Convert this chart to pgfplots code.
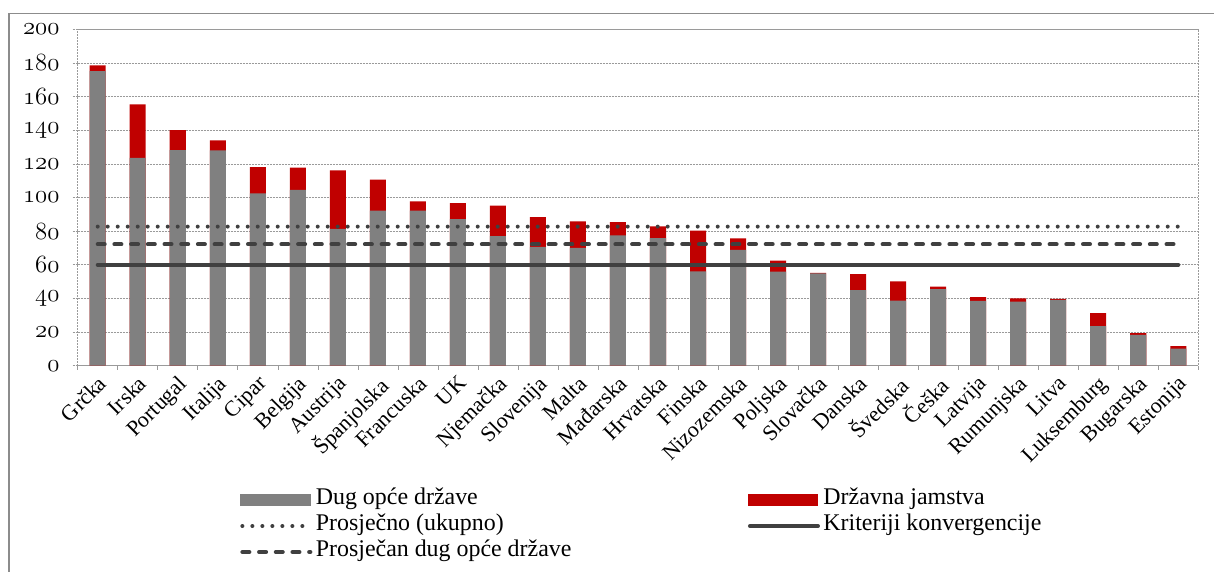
\documentclass[border=0pt]{standalone}
\usepackage{fontspec}
\setmainfont{Liberation Serif}
\usepackage{pgfplots}
\usepackage{pgfplotstable}
\pgfplotsset{compat=1.18}
\definecolor{dug}{HTML}{808080}
\definecolor{jam}{HTML}{C00000}
\definecolor{lin}{HTML}{404040}
\definecolor{grd}{HTML}{9A9A9A}
\definecolor{frm}{HTML}{8C8C8C}
\newcommand\osf[1]{{\fontsize{23}{23}\usefont{OML}{cmm}{m}{it}#1}}
\pgfplotsset{
  lineleg/.style={legend image code/.code={\draw[##1] (2bp,0bp) -- (70bp,0bp);}},
  dugleg/.style={legend image code/.code={\fill[dug] (0bp,-5.5bp) rectangle (70bp,6bp);}},
  jamleg/.style={legend image code/.code={\fill[jam] (0bp,-5.5bp) rectangle (70bp,6bp);}},
}

% x  debt  total (debt + state guarantees), % of GDP
\pgfplotstableread{
x debt total
0 175.2 178.6
1 123.5 155.4
2 128.2 140.1
3 128.0 134.0
4 102.5 118.0
5 104.5 117.7
6 81.3 116.2
7 92.2 110.6
8 92.2 97.7
9 87.2 96.7
10 77.1 95.1
11 70.6 88.4
12 70.0 85.8
13 77.5 85.4
14 75.9 82.9
15 56.1 80.3
16 68.8 75.7
17 55.9 62.4
18 54.9 55.2
19 45.0 54.4
20 38.7 50.2
21 45.6 47.0
22 38.5 40.7
23 38.1 40.1
24 39.1 39.8
25 23.6 31.2
26 18.4 19.3
27 10.1 11.7
}\data

\begin{document}
\begin{tikzpicture}
\useasboundingbox (-77.7bp,-206.3bp) rectangle (1136.3bp,365.7bp);
\draw[frm, line width=1.3bp] (-68.7bp,-210bp) -- (-68.7bp,352.4bp) -- (1140bp,352.4bp);
\begin{axis}[
  at={(0,0)}, anchor=south west,
  width=1120.6bp, height=336.4bp, scale only axis,
  xmin=-0.5, xmax=27.5, ymin=0, ymax=200,
  ytick={0,20,40,60,80,100,120,140,160,180,200},
  yticklabels={\osf{0},\osf{20},\osf{40},\osf{60},\osf{80},\osf{100},\osf{120},\osf{140},\osf{160},\osf{180},\osf{200}},
  xtick={0,...,27},
  xticklabels={Grčka,Irska,Portugal,Italija,Cipar,Belgija,Austrija,Španjolska,Francuska,UK,Njemačka,Slovenija,Malta,Mađarska,Hrvatska,Finska,Nizozemska,Poljska,Slovačka,Danska,Švedska,Češka,Latvija,Rumunjska,Litva,Luksemburg,Bugarska,Estonija},
  minor xtick={-0.5,0.5,...,27.5},
  major x tick style={draw=none},
  minor x tick style={grd, line width=0.6bp},
  y tick style={grd, line width=0.6bp, dash pattern=on 2bp off 1bp},
  tick align=outside,
  xtick pos=bottom, ytick pos=left,
  major tick length=5bp, minor tick length=4bp,
  ymajorgrids,
  grid style={grd, line width=0.6bp, dash pattern=on 2bp off 1bp},
  axis line style={grd, line width=0.6bp, dash pattern=on 2bp off 1bp},
  y tick label style={inner sep=2bp, xshift=-11bp},
  xticklabel style={rotate=45, anchor=north east, font=\fontsize{22}{22}\selectfont, inner sep=1bp, xshift=-2bp, yshift=-1bp},
  legend columns=2,
  legend cell align=left,
  legend style={
    at={(axis description cs:0.1448,-0.360)}, anchor=north west,
    draw=none, fill=none, inner sep=0pt, row sep=0pt,
    font=\fontsize{24}{24}\selectfont,
    nodes={text height=14bp, text depth=5bp, inner sep=3.5bp},
    /tikz/every even column/.append style={column sep=173bp},
  },
]
\addlegendimage{dugleg}
\addlegendentry{Dug opće države}
\addplot[ybar, bar width=0.4, bar shift=0, fill=jam, draw=none, jamleg]
  table[x=x, y=total] {\data};
\addlegendentry{Državna jamstva}
\addplot[ybar, bar width=0.4, bar shift=0, fill=dug, draw=none, forget plot]
  table[x=x, y=debt] {\data};
\addplot[lin, line width=4bp, line cap=round, dash pattern=on 0bp off 10bp, lineleg]
  coordinates {(0,82.7) (27,82.7)};
\addlegendentry{Prosječno (ukupno)}
\addplot[lin, line width=4bp, line cap=round, lineleg]
  coordinates {(0,60) (27,60)};
\addlegendentry{Kriteriji konvergencije}
\addplot[lin, line width=4bp, line cap=round, dash pattern=on 7bp off 9.7bp, lineleg]
  coordinates {(0,72.2) (27,72.2)};
\addlegendentry{Prosječan dug opće države}
\end{axis}
\end{tikzpicture}
\end{document}
